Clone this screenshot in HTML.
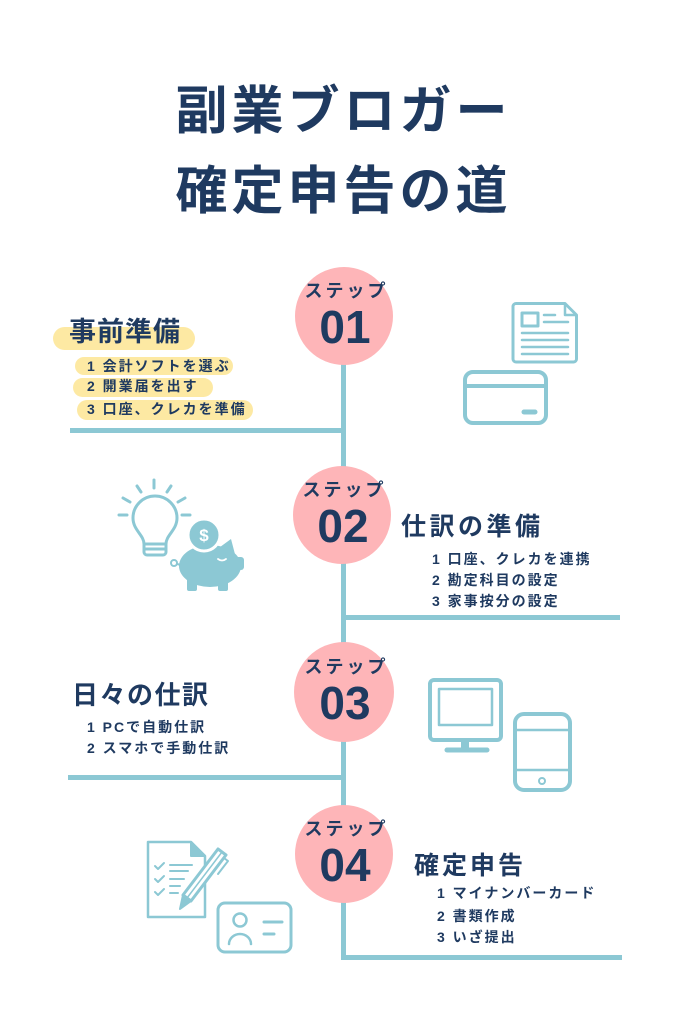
<!DOCTYPE html>
<html><head><meta charset="utf-8">
<style>
html,body{margin:0;padding:0;}
body{width:683px;height:1024px;position:relative;overflow:hidden;background:#fff;font-family:"Liberation Sans","Noto Sans CJK JP",sans-serif;color:#1f3a60;}
.t{position:absolute;white-space:nowrap;line-height:1;font-weight:bold;}
.it{font-size:14px;letter-spacing:2px;}
.hl{position:absolute;background:#fde9a3;border-radius:12px;}
svg{position:absolute;left:0;top:0;}
.st{position:absolute;width:120px;text-align:center;font-size:18px;letter-spacing:3px;padding-left:3px;box-sizing:border-box;line-height:1;font-weight:bold;}
.num{position:absolute;width:120px;text-align:center;font-size:46px;line-height:1;font-weight:bold;font-family:"Liberation Sans",sans-serif;}
</style></head><body>

<!-- title -->
<div class="t" style="left:0;width:683px;text-align:center;top:86px;font-size:52px;letter-spacing:4px;padding-left:4px;box-sizing:border-box;">副業ブロガー</div>
<div class="t" style="left:0;width:683px;text-align:center;top:166px;font-size:52px;letter-spacing:4px;padding-left:4px;box-sizing:border-box;">確定申告の道</div>

<!-- highlights step1 -->
<div class="hl" style="left:53px;top:327px;width:142px;height:23px;"></div>
<div class="hl" style="left:75px;top:357px;width:158px;height:18px;"></div>
<div class="hl" style="left:73px;top:378px;width:140px;height:19px;"></div>
<div class="hl" style="left:77px;top:400px;width:176px;height:20px;"></div>

<svg width="683" height="1024" viewBox="0 0 683 1024">
  <g stroke="#8cc8d4" stroke-width="5" fill="none">
    <line x1="343.5" y1="360" x2="343.5" y2="960"/>
    <line x1="70" y1="430.5" x2="346" y2="430.5"/>
    <line x1="341" y1="617.5" x2="620" y2="617.5"/>
    <line x1="68" y1="777.5" x2="346" y2="777.5"/>
    <line x1="341" y1="957.5" x2="622" y2="957.5"/>
  </g>
  <g fill="#feb5b8">
    <circle cx="344" cy="316" r="49"/>
    <circle cx="342" cy="515" r="49"/>
    <circle cx="344" cy="692" r="50"/>
    <circle cx="344" cy="854" r="49"/>
  </g>

  <!-- step1 icons -->
  <g stroke="#8cc8d4" fill="none" stroke-linecap="round" stroke-linejoin="round">
    <path d="M516 303.5 H565 L576.5 315 V359 a3 3 0 0 1 -3 3 H516 a3 3 0 0 1 -3 -3 V306.5 a3 3 0 0 1 3 -3 Z" stroke-width="3"/>
    <path d="M565 304 V315 H576" stroke-width="2.5"/>
    <rect x="522" y="313" width="16" height="13" stroke-width="3"/>
    <line x1="544" y1="315" x2="555" y2="315" stroke-width="2.5"/>
    <line x1="544" y1="322" x2="568" y2="322" stroke-width="2.5"/>
    <line x1="522" y1="333" x2="568" y2="333" stroke-width="2.5"/>
    <line x1="522" y1="340" x2="568" y2="340" stroke-width="2.5"/>
    <line x1="522" y1="347" x2="568" y2="347" stroke-width="2.5"/>
    <line x1="522" y1="354" x2="568" y2="354" stroke-width="2.5"/>
    <rect x="465" y="372" width="81" height="51" rx="8" stroke-width="4"/>
    <line x1="465" y1="386" x2="546" y2="386" stroke-width="4"/>
    <line x1="524" y1="412" x2="535" y2="412" stroke-width="5"/>
  </g>

  <!-- step2 icons: bulb -->
  <g stroke="#8cc8d4" fill="none" stroke-linecap="round" stroke-linejoin="round" stroke-width="3">
    <path d="M144 544 C144 535 133 530 133 518 A22 22 0 0 1 177 518 C177 530 166 535 166 544 Z"/>
    <line x1="144" y1="549" x2="166" y2="549"/>
    <path d="M144 544 V552 a3 3 0 0 0 3 3 H163 a3 3 0 0 0 3 -3 V544"/>
    <line x1="154" y1="480" x2="154" y2="488"/>
    <line x1="137" y1="486" x2="141" y2="492"/>
    <line x1="171" y1="486" x2="167" y2="492"/>
    <line x1="123" y1="498" x2="130" y2="502"/>
    <line x1="185" y1="498" x2="178" y2="502"/>
    <line x1="119" y1="515" x2="127" y2="515"/>
    <line x1="182" y1="515" x2="190" y2="515"/>
  </g>
  <!-- pig -->
  <g fill="#8cc8d4">
    <ellipse cx="210" cy="566" rx="31" ry="21"/>
    <polygon points="216,550 231,539 236,558"/>
    <rect x="234" y="557" width="10" height="13" rx="3"/>
    <rect x="187" y="575" width="10" height="16" rx="2"/>
    <rect x="218" y="575" width="10" height="16" rx="2"/>
    <circle cx="204" cy="535" r="16" stroke="#fff" stroke-width="3"/>
  </g>
  <circle cx="174" cy="563" r="3" fill="none" stroke="#8cc8d4" stroke-width="2"/>
  <line x1="177" y1="564" x2="181" y2="565" stroke="#8cc8d4" stroke-width="2"/>
  <path d="M218 559 q4 3 8 0" fill="none" stroke="#fff" stroke-width="1.8" stroke-linecap="round"/>
  <text x="204" y="541" text-anchor="middle" font-family="Liberation Sans, sans-serif" font-weight="bold" font-size="17" fill="#fff">$</text>

  <!-- step3 icons -->
  <g stroke="#8cc8d4" fill="none" stroke-linecap="round" stroke-linejoin="round">
    <rect x="430" y="680" width="71" height="60" rx="4" stroke-width="4"/>
    <rect x="439" y="689" width="53" height="36" stroke-width="2.5"/>
    <line x1="465" y1="742" x2="465" y2="748" stroke-width="8" stroke-linecap="butt"/>
    <line x1="447" y1="750" x2="487" y2="750" stroke-width="5"/>
    <rect x="515" y="714" width="55" height="76" rx="9" stroke-width="4"/>
    <line x1="515" y1="730" x2="570" y2="730" stroke-width="2.5"/>
    <line x1="515" y1="770" x2="570" y2="770" stroke-width="2.5"/>
    <circle cx="542" cy="781" r="3" stroke-width="2"/>
  </g>

  <!-- step4 icons -->
  <g stroke="#8cc8d4" fill="none" stroke-linecap="round" stroke-linejoin="round">
    <path d="M148 842 H191 L205 856 V917 H148 Z" stroke-width="2.5"/>
    <path d="M191 842 V856 H205 Z" fill="#8cc8d4" stroke-width="2"/>
    <path d="M155 866 l3 3 l6 -6" stroke-width="2"/>
    <path d="M155 879 l3 3 l6 -6" stroke-width="2"/>
    <path d="M155 892 l3 3 l6 -6" stroke-width="2"/>
    <line x1="170" y1="865" x2="192" y2="865" stroke-width="2"/>
    <line x1="170" y1="871" x2="188" y2="871" stroke-width="2"/>
    <line x1="170" y1="879" x2="184" y2="879" stroke-width="2"/>
    <line x1="170" y1="886" x2="180" y2="886" stroke-width="2"/>
    <line x1="170" y1="893" x2="178" y2="893" stroke-width="2"/>
    <polygon points="183,895 191,901 226,855 218,849" fill="#fff" stroke-width="3"/>
    <polygon points="183,895 191,901 180,909" fill="#8cc8d4" stroke-width="2"/>
    <line x1="187" y1="898" x2="222" y2="852" stroke-width="1.5"/>
    <path d="M224 858 L228 861 L218 874" stroke-width="2"/>
    <rect x="218" y="903" width="73" height="49" rx="7" stroke-width="3"/>
    <circle cx="240" cy="920" r="6.5" stroke-width="2.5"/>
    <path d="M229 944 a11 10 0 0 1 22 0" stroke-width="2.5"/>
    <line x1="264" y1="922" x2="282" y2="922" stroke-width="3"/>
    <line x1="264" y1="934" x2="274" y2="934" stroke-width="3"/>
  </g>
</svg>

<!-- circle labels -->
<div class="st" style="left:285px;top:282px;">ステップ</div>
<div class="num" style="left:285px;top:304px;">01</div>
<div class="st" style="left:283px;top:481px;">ステップ</div>
<div class="num" style="left:283px;top:503px;">02</div>
<div class="st" style="left:285px;top:658px;">ステップ</div>
<div class="num" style="left:285px;top:680px;">03</div>
<div class="st" style="left:285px;top:820px;">ステップ</div>
<div class="num" style="left:285px;top:842px;">04</div>

<!-- step1 text -->
<div class="t" style="left:69px;top:319px;font-size:27px;letter-spacing:1px;">事前準備</div>
<div class="t it" style="left:87px;top:359px;">1 会計ソフトを選ぶ</div>
<div class="t it" style="left:87px;top:379px;">2 開業届を出す</div>
<div class="t it" style="left:87px;top:402px;">3 口座、クレカを準備</div>

<!-- step2 text -->
<div class="t" style="left:401px;top:515px;font-size:25px;letter-spacing:3.5px;">仕訳の準備</div>
<div class="t it" style="left:432px;top:552px;">1 口座、クレカを連携</div>
<div class="t it" style="left:432px;top:573px;">2 勘定科目の設定</div>
<div class="t it" style="left:432px;top:594px;">3 家事按分の設定</div>

<!-- step3 text -->
<div class="t" style="left:72px;top:682px;font-size:26px;letter-spacing:1.5px;">日々の仕訳</div>
<div class="t it" style="left:87px;top:720px;">1 PCで自動仕訳</div>
<div class="t it" style="left:87px;top:741px;">2 スマホで手動仕訳</div>

<!-- step4 text -->
<div class="t" style="left:414px;top:854px;font-size:25px;letter-spacing:3px;">確定申告</div>
<div class="t it" style="left:437px;top:886px;">1 マイナンバーカード</div>
<div class="t it" style="left:437px;top:909px;">2 書類作成</div>
<div class="t it" style="left:437px;top:930px;">3 いざ提出</div>

</body></html>
